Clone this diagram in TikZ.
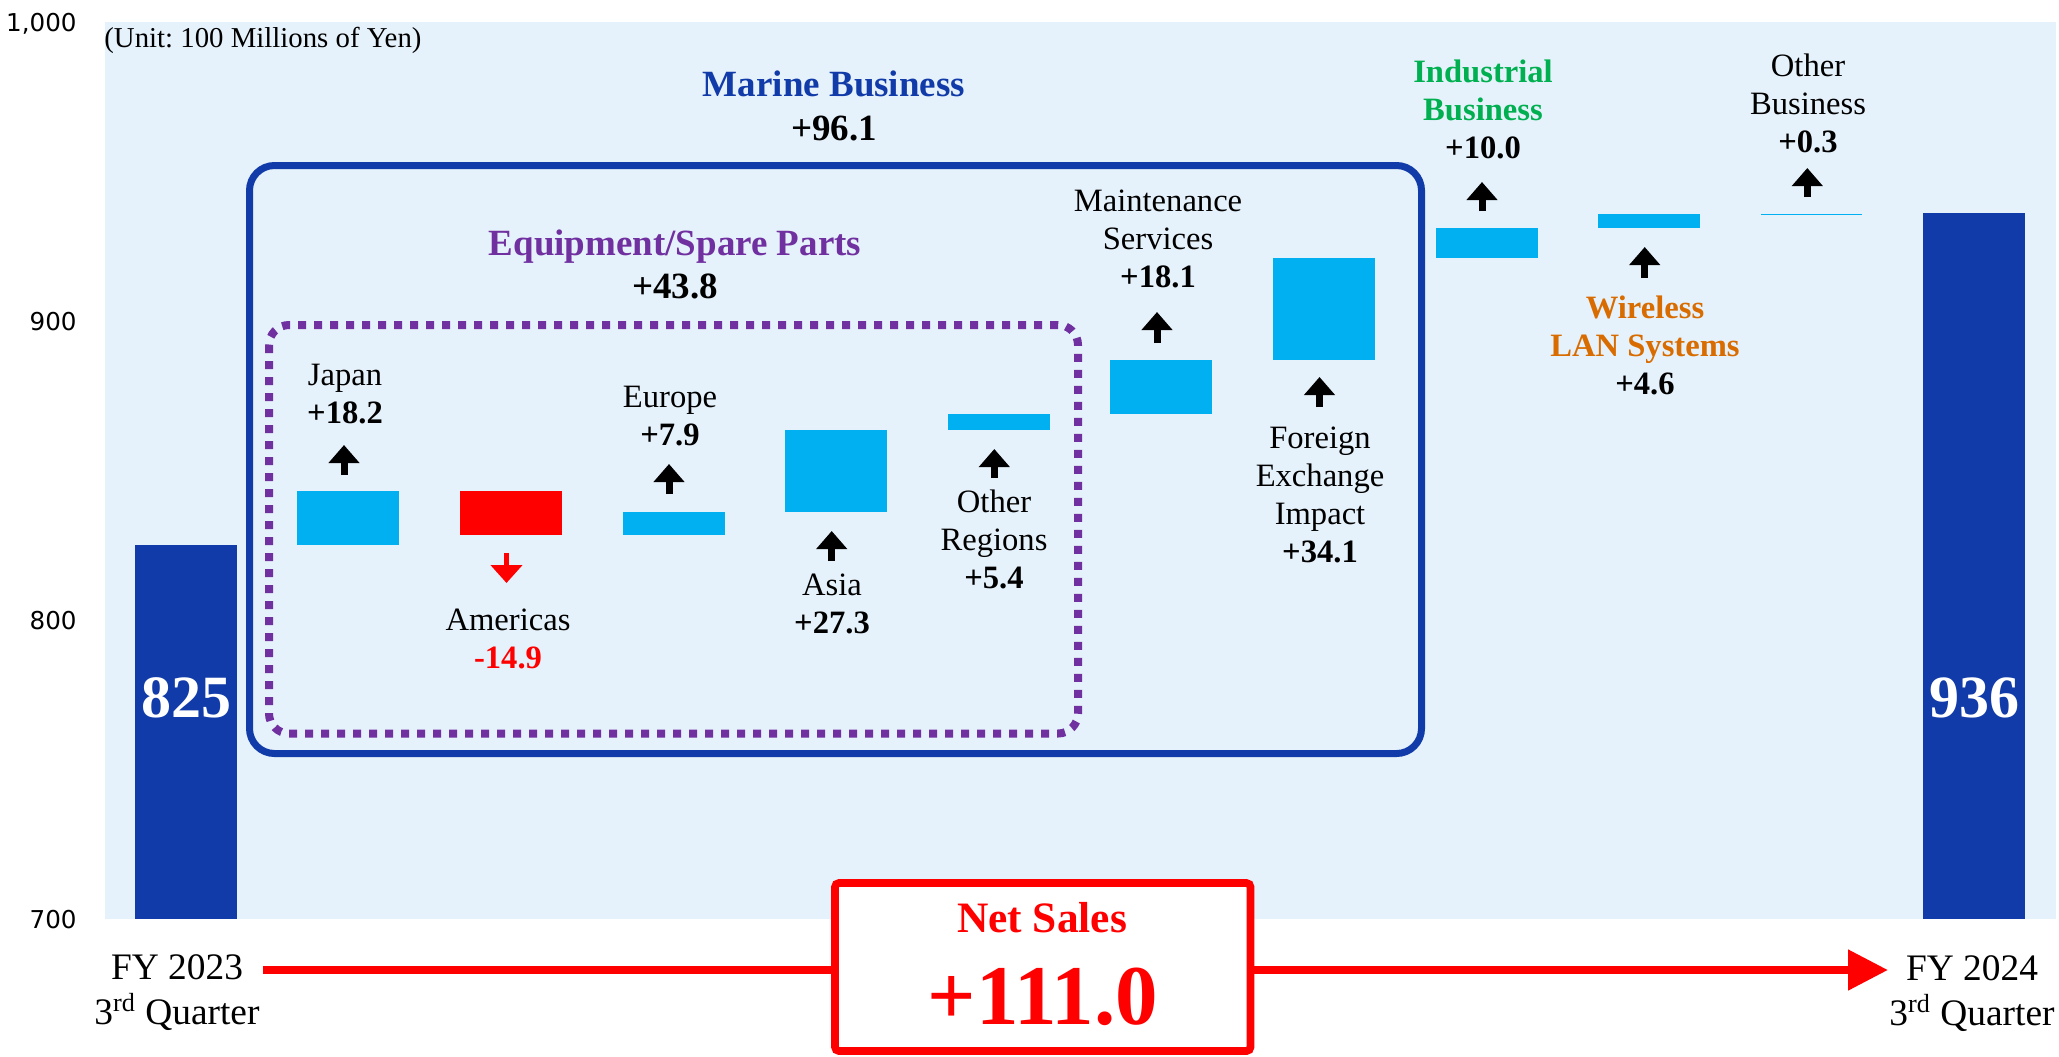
\documentclass[tikz,border=0pt]{standalone}
\usepackage{fontspec}
\setmainfont{Liberation Serif}
\newfontfamily\axisfont{DejaVu Sans}
\usetikzlibrary{arrows.meta}
\frenchspacing
\definecolor{bgblue}{HTML}{E6F2FB}
\definecolor{barcyan}{HTML}{00B0F0}
\definecolor{navy}{HTML}{113BA8}
\definecolor{eqpurple}{HTML}{7030A0}
\definecolor{indgreen}{HTML}{00B050}
\definecolor{wlorange}{HTML}{D86C00}
\definecolor{netred}{HTML}{FF0000}
\begin{document}
\begin{tikzpicture}[x=0.5pt,y=-0.5pt,
  declare function={yv(\v)=919-(\v-700)*2.99;},
  upbar/.style={fill=barcyan},
  uparrow/.style={black, line width=3.5pt, -{Triangle[length=9pt,width=15pt]}},
  downarrow/.style={netred, line width=2.5pt, -{Triangle[length=9pt,width=15.5pt]}},
  lbl/.style={font=\fontsize{16.3}{19}\selectfont, align=center, anchor=base, inner sep=0pt},
  blbl/.style={font=\fontsize{16.3}{19}\selectfont\bfseries, align=center, anchor=base, inner sep=0pt},
  ttl/.style={font=\fontsize{18.5}{22}\selectfont\bfseries, align=center, anchor=base, inner sep=0pt},
  axislbl/.style={font=\axisfont\fontsize{12.3}{14}\selectfont, anchor=base east, inner sep=0pt},
  totlbl/.style={font=\fontsize{30}{34}\selectfont\bfseries, text=white, anchor=base, inner sep=0pt},
  fylbl/.style={font=\fontsize{18.7}{22.5}\selectfont, align=center, anchor=base, inner sep=0pt}]
\useasboundingbox (0,0) rectangle (2059,1056);
% plot area
\fill[bgblue] (105,22) rectangle (2056,919);
% axis labels
\node[axislbl] (a1000) at (77,{yv(1000)+9.5}) {1,000};
\node[axislbl] (a900) at (77,{yv(900)+9.5}) {900};
\node[axislbl] (a800) at (77,{yv(800)+9.5}) {800};
\node[axislbl] (a700) at (77,{yv(700)+9.5}) {700};
\node[font=\fontsize{14.4}{17}\selectfont, anchor=base west, inner sep=0pt] (unit) at (104,47) {(Unit: 100 Millions of Yen)};
% bars
\fill[navy] (135,{yv(825)}) rectangle (237,919);
\fill[upbar] (297.4,{yv(825)}) rectangle (399.4,{yv(843.2)});
\fill[netred] (460,{yv(843.2)}) rectangle (562,{yv(828.3)});
\fill[upbar] (622.6,{yv(828.3)}) rectangle (724.6,{yv(836.2)});
\fill[upbar] (785.2,{yv(836.2)}) rectangle (887.2,{yv(863.5)});
\fill[upbar] (947.8,{yv(863.5)}) rectangle (1049.8,{yv(868.9)});
\fill[upbar] (1110.4,{yv(868.9)}) rectangle (1212.4,{yv(887)});
\fill[upbar] (1273,{yv(887)}) rectangle (1375,{yv(921.1)});
\fill[upbar] (1435.6,{yv(921.1)}) rectangle (1537.6,{yv(931.1)});
\fill[upbar] (1598.2,{yv(931.1)}) rectangle (1700.2,{yv(935.7)});
\fill[upbar] (1761,{yv(935.7)-0.4}) rectangle (1862,{yv(936)+0.4});
\fill[navy] (1923.4,{yv(936)}) rectangle (2025.4,919);
% group boxes
\draw[navy, line width=3.5pt, rounded corners=12.5pt] (249.5,165.5) rectangle (1421.5,753.5);
\draw[eqpurple, line width=4pt, dash pattern=on 4pt off 4pt, rounded corners=10pt] (269,325) rectangle (1078,733.5);
% small arrows
\draw[uparrow] (344,475) -- (344,445);
\draw[downarrow] (506.5,553) -- (506.5,583);
\draw[uparrow] (669,494) -- (669,464);
\draw[uparrow] (831.7,561) -- (831.7,531);
\draw[uparrow] (994.3,478) -- (994.3,449);
\draw[uparrow] (1157,343) -- (1157,312);
\draw[uparrow] (1319.5,407) -- (1319.5,377);
\draw[uparrow] (1482,211) -- (1482,182);
\draw[uparrow] (1644.7,278) -- (1644.7,247);
\draw[uparrow] (1807.3,197) -- (1807.3,168);
% labels (anchor = baseline of last line)
\node[ttl, text=navy] (marine) at (834,140) {Marine Business\\\textcolor{black}{+96.1}};
\node[ttl, font=\fontsize{18.5}{21.5}\selectfont\bfseries, text=eqpurple] (equip) at (675,298) {Equipment/Spare Parts\\\textcolor{black}{+43.8}};
\node[lbl] (japan) at (345,423) {Japan\\\textbf{+18.2}};
\node[lbl] (americas) at (508,668) {Americas\\\textcolor{netred}{\textbf{-14.9}}};
\node[lbl] (europe) at (670,445) {Europe\\\textbf{+7.9}};
\node[lbl] (asia) at (832,633) {Asia\\\textbf{+27.3}};
\node[lbl] (othreg) at (994,588) {Other\\Regions\\\textbf{+5.4}};
\node[lbl] (maint) at (1158,287) {Maintenance\\Services\\\textbf{+18.1}};
\node[lbl] (fx) at (1320,562) {Foreign\\Exchange\\Impact\\\textbf{+34.1}};
\node[blbl, text=indgreen] (ind) at (1483,158) {Industrial\\Business\\\textcolor{black}{+10.0}};
\node[blbl, text=wlorange] (wl) at (1645,394) {Wireless\\LAN Systems\\\textcolor{black}{+4.6}};
\node[lbl] (othbiz) at (1808,152) {Other\\Business\\\textbf{+0.3}};
\node[totlbl] (v825) at (186,717) {825};
\node[totlbl] (v936) at (1974,717) {936};
% bottom
\node[fylbl] (fy23) at (177,1024) {FY 2023\\3\textsuperscript{rd} Quarter};
\node[fylbl] (fy24) at (1972,1025) {FY 2024\\3\textsuperscript{rd} Quarter};
\coordinate (arrS) at (263,970);
\coordinate (arrE) at (1888,970);
\draw[netred, line width=4pt, -{Triangle[length=20pt,width=19.5pt]}] (arrS) -- (arrE);
\node[draw=netred, fill=white, line width=3.85pt, rounded corners=2pt, minimum width=207.75pt, minimum height=84pt, inner sep=0pt] (netbox) at (1042.75,967) {};
\node[font=\fontsize{21.7}{26}\selectfont\bfseries, text=netred, anchor=base, inner sep=0pt] (nettitle) at (1042,932) {Net Sales};
\node[font=\fontsize{42.5}{48}\selectfont\bfseries, text=netred, anchor=base, inner sep=0pt] (netval) at (1043,1024) {+111.0};
\end{tikzpicture}
\end{document}
